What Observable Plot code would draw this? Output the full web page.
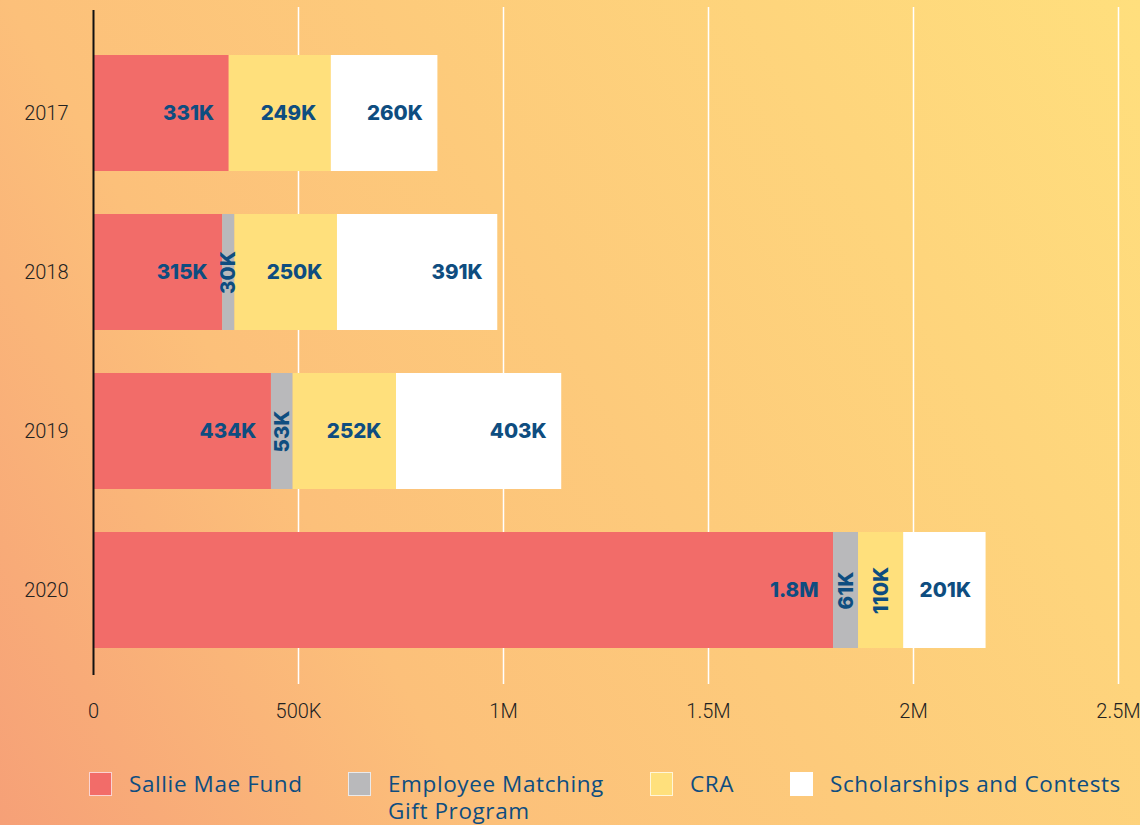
<!DOCTYPE html>
<html><head><meta charset="utf-8">
<script src="https://cdn.jsdelivr.net/npm/d3@7"></script>
<script src="https://cdn.jsdelivr.net/npm/@observablehq/plot@0.6"></script>
<style>
html,body{margin:0;padding:0;}
body{width:1140px;height:825px;overflow:hidden;position:relative;font-family:Roboto,sans-serif;
  background:linear-gradient(60deg,#F6A077 0%,#FCC07A 30%,#FFDF7D 100%);}
#chart svg{background:transparent;display:block}
.legend{position:absolute;top:772px;left:0;width:1140px;height:53px;}
.item{position:absolute;top:0;display:flex;align-items:flex-start;}
.sw{width:23px;height:24px;box-sizing:border-box;border:1px solid rgba(255,255,255,0.7);flex:none;margin-right:17px}
.lab{font-family:"Open Sans",sans-serif;font-size:22.5px;letter-spacing:0.6px;line-height:27px;color:#0E4D80;margin-top:-2px}
</style></head><body>
<div id="chart"></div>
<div class="legend" id="legend"></div>
<script>
const years = ["2017", "2018", "2019", "2020"];
const categories = ["Sallie Mae Fund", "Employee Matching Gift Program", "CRA", "Scholarships and Contests"];
const sallieMaeFund = [331000, 315000, 434000, 1805000];
const employeeMatching = [0, 30000, 53000, 61000];
const cra = [249000, 250000, 252000, 110000];
const scholarships = [260000, 391000, 403000, 201000];
const colors = ["#F26C69", "#B9B9BB", "#FFE07C", "#FFFFFF"];
const xTicks = [0, 500000, 1000000, 1500000, 2000000, 2500000];

const series = [sallieMaeFund, employeeMatching, cra, scholarships];
const table = [];
years.forEach((year, i) => {
  categories.forEach((category, j) => {
    table.push({year, category, value: series[j][i]});
  });
});

const fmt = v => v >= 1e6 ? (v / 1e6).toFixed(1) + "M" : Math.round(v / 1e3) + "K";
const tickFmt = d => d === 0 ? "0" : d >= 1e6 ? (d / 1e6) + "M" : (d / 1e3) + "K";
const rotateBelow = 150000;
const labelStyle = {fill: "#0E4D80", fontWeight: 800, fontFamily: "Inter", fontSize: 20.5};

const plot = Plot.plot({
  width: 1140, height: 740,
  marginLeft: 93, marginRight: 22, marginTop: 10, marginBottom: 65,
  style: {background: "transparent", fontFamily: "Roboto", fontSize: "20px", color: "#222", fontWeight: 300},
  x: {domain: [0, 2500000], ticks: xTicks, tickFormat: tickFmt, tickSize: 0, tickPadding: 28, label: null},
  y: {domain: years, paddingInner: 0.27, paddingOuter: 0.226, align: 0.625, tickSize: 0, tickPadding: 25, label: null},
  color: {domain: categories, range: colors},
  marks: [
    Plot.ruleX(xTicks.slice(1), {stroke: "#fff", strokeWidth: 1.5, insetTop: -3, insetBottom: -9}),
    Plot.barX(table, {x: "value", y: "year", fill: "category"}),
    Plot.text(table, Plot.stackX2({
      x: "value", y: "year", z: "category",
      text: d => d.value >= rotateBelow ? fmt(d.value) : "",
      textAnchor: "end", dx: -15, ...labelStyle
    })),
    Plot.text(table, Plot.stackX({
      x: "value", y: "year", z: "category",
      text: d => d.value > 0 && d.value < rotateBelow ? fmt(d.value) : "",
      rotate: -90, ...labelStyle
    })),
    Plot.ruleX([0], {stroke: "#111", strokeWidth: 2})
  ]
});
document.getElementById("chart").appendChild(plot);

const lefts = [89, 348, 650, 790];
const labWidths = [null, 240, null, null];
const legend = document.getElementById("legend");
categories.forEach((c, i) => {
  const item = document.createElement("div");
  item.className = "item";
  item.style.left = lefts[i] + "px";
  const sw = document.createElement("div");
  sw.className = "sw";
  sw.style.background = colors[i];
  const lab = document.createElement("div");
  lab.className = "lab";
  lab.textContent = c;
  if (labWidths[i]) lab.style.width = labWidths[i] + "px";
  else lab.style.whiteSpace = "nowrap";
  item.appendChild(sw);
  item.appendChild(lab);
  legend.appendChild(item);
});
</script>
</body></html>
